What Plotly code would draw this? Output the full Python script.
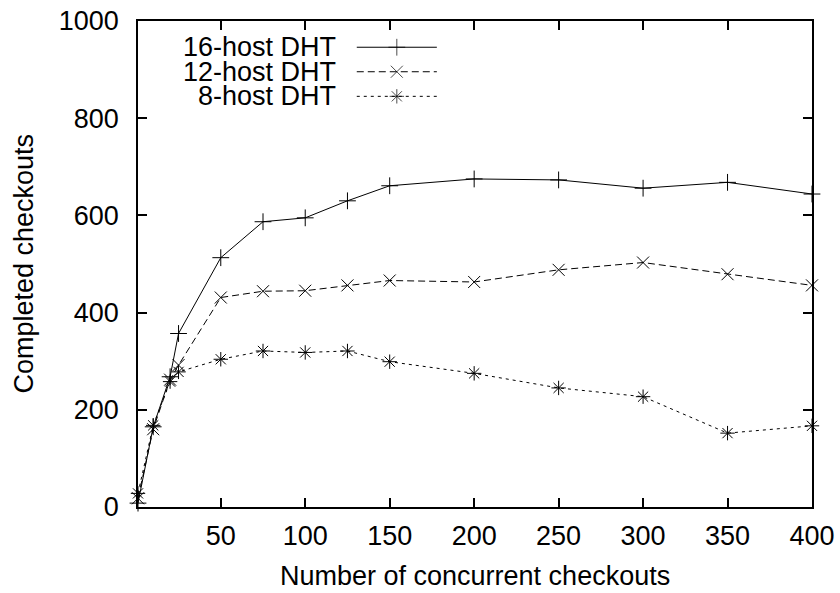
import plotly.graph_objects as go

# ---- data ----
concurrent = [1, 10, 20, 25, 50, 75, 100, 125, 150, 200, 250, 300, 350, 400]
dht16 = [8, 165, 268, 357, 513, 587, 595, 630, 661, 675, 673, 656, 668, 644]
dht12 = [18, 160, 262, 292, 431, 444, 445, 456, 466, 463, 488, 503, 479, 456]
dht8 = [28, 168, 258, 278, 304, 321, 318, 321, 299, 275, 245, 227, 152, 167]

series_names = ["16-host DHT", "12-host DHT", "8-host DHT"]
series_values = [dht16, dht12, dht8]
x_ticks = [50, 100, 150, 200, 250, 300, 350, 400]
y_ticks = [0, 200, 400, 600, 800, 1000]

styles = [
    dict(dash="solid", symbol="cross-thin-open"),
    dict(dash="7px,4px", symbol="x-thin-open"),
    dict(dash="3px,4px", symbol="asterisk-open"),
]

FONT = "Liberation Sans, Arial, Helvetica, sans-serif"
FS = 27

fig = go.Figure()
for name, vals, st in zip(series_names, series_values, styles):
    fig.add_trace(go.Scatter(
        x=concurrent, y=vals, name=name, mode="lines+markers",
        line=dict(color="black", width=1, dash=st["dash"]),
        marker=dict(symbol=st["symbol"], size=12, color="black",
                    line=dict(color="black", width=1)),
        showlegend=False, cliponaxis=False,
    ))

# custom gnuplot-style key (text on left, sample on right)
key_y = [0.946, 0.8956, 0.845]
for name, st, ky in zip(series_names, styles, key_y):
    fig.add_trace(go.Scatter(
        x=[0.3246, 0.384, 0.4434], y=[ky, ky, ky], xaxis="x2", yaxis="y2",
        mode="lines+markers",
        line=dict(color="black", width=1, dash=st["dash"]),
        marker=dict(symbol=st["symbol"], size=[0, 12, 0], color="black",
                    line=dict(color="black", width=1)),
        showlegend=False, hoverinfo="skip",
    ))
    fig.add_annotation(x=0.296, y=ky, xref="x2", yref="y2", text=name,
                       showarrow=False, xanchor="right", yanchor="middle",
                       font=dict(family=FONT, size=FS, color="black"))

axis_common = dict(
    showgrid=False, zeroline=False, showline=True, linecolor="black",
    linewidth=1.5, mirror="ticks", ticks="inside", ticklen=9, tickwidth=1.5,
    tickcolor="black", tickfont=dict(family=FONT, size=FS, color="black"),
    automargin=False,
)

fig.update_layout(
    width=840, height=593,
    margin=dict(l=138, r=28, t=21, b=86),
    paper_bgcolor="white", plot_bgcolor="white",
    font=dict(family=FONT, size=FS, color="black"),
    xaxis=dict(range=[1, 400], tickvals=x_ticks, ticklabelstandoff=4,
               **axis_common),
    yaxis=dict(range=[0, 1000], tickvals=y_ticks, ticklabelstandoff=12,
               **axis_common),
    xaxis2=dict(range=[0, 1], domain=[0, 1], overlaying="x", visible=False,
                fixedrange=True),
    yaxis2=dict(range=[0, 1], domain=[0, 1], overlaying="y", visible=False,
                fixedrange=True),
)

fig.add_annotation(x=0.5, y=-0.143, xref="paper", yref="paper",
                   text="Number of concurrent checkouts", showarrow=False,
                   xanchor="center", yanchor="middle",
                   font=dict(family=FONT, size=FS, color="black"))
fig.add_annotation(x=-0.1697, y=0.5, xref="paper", yref="paper",
                   text="Completed checkouts", showarrow=False, textangle=-90,
                   xanchor="center", yanchor="middle",
                   font=dict(family=FONT, size=FS, color="black"))

fig.write_html("out.html",
               config={"displayModeBar": False},
               post_script="document.body.style.margin='0';"
                           "document.body.style.overflow='hidden';")
